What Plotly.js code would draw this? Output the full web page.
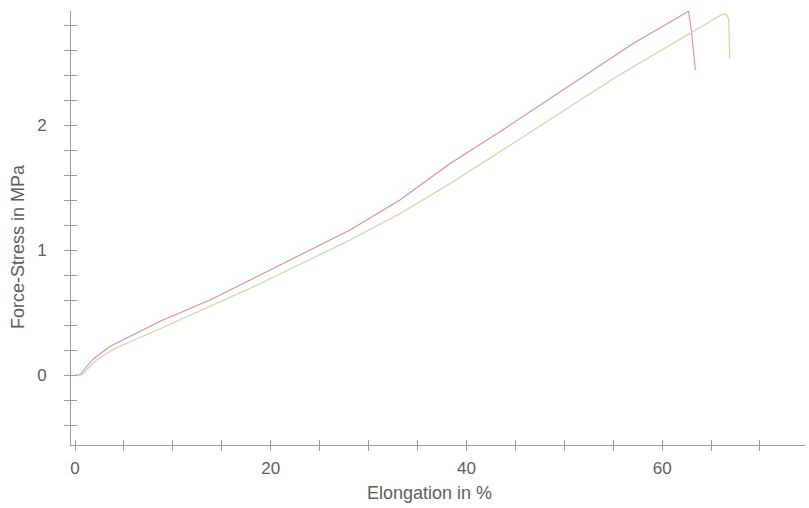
<!DOCTYPE html>
<html>
<head>
<meta charset="utf-8">
<script src="https://cdn.plot.ly/plotly-3.0.1.min.js"></script>
<style>html,body{margin:0;padding:0;background:#fff;}#chart{width:809px;height:508px;}</style>
</head>
<body>
<div id="chart"></div>
<script>
// Sample 1 (red)
const elongRed = [0, 0.5, 1.0, 1.9, 3.6, 8.7, 13.8, 18.9, 28.1, 33.2, 38.3, 43.5, 51.6, 57.0, 62.7, 63.0, 63.4];
const stressRed = [0, 0.0, 0.05, 0.13, 0.23, 0.43, 0.60, 0.80, 1.16, 1.40, 1.69, 1.95, 2.37, 2.65, 2.91, 2.75, 2.44];
// Sample 2 (green)
const elongGreen = [0, 0.7, 1.3, 2.2, 4.0, 8.7, 18.9, 28.1, 33.2, 38.3, 43.5, 49.0, 55.0, 63.2, 66.0, 66.5, 66.8, 66.9];
const stressGreen = [0, 0.0, 0.05, 0.12, 0.21, 0.37, 0.73, 1.08, 1.29, 1.53, 1.79, 2.07, 2.37, 2.75, 2.88, 2.89, 2.85, 2.53];

const xTickVals = [0, 20, 40, 60];
const xTickText = ['0', '20', '40', '60'];
const yTickVals = [0, 1, 2];
const yTickText = ['0', '1', '2'];
const xTitle = 'Elongation in %';
const yTitle = 'Force-Stress in MPa';

const axisColor = '#9a9a9a';
const textColor = '#5e5e5e';
const fam = 'Liberation Sans, Arial, sans-serif';
const xr = [-0.41, 74.6];
const yr = [-0.56, 2.912];

const traces = [
  {x: elongRed, y: stressRed, mode: 'lines', line: {color: '#dc8c9e', width: 1.1}, hoverinfo: 'skip'},
  {x: elongGreen, y: stressGreen, mode: 'lines', line: {color: '#cdd59c', width: 1.1}, hoverinfo: 'skip'},
  {x: [], y: [], xaxis: 'x2', yaxis: 'y2', mode: 'lines', hoverinfo: 'skip'}
];

const layout = {
  width: 809, height: 508,
  margin: {l: 71, r: 4, t: 11, b: 63},
  paper_bgcolor: '#ffffff', plot_bgcolor: '#ffffff',
  showlegend: false,
  font: {family: fam, size: 17, color: textColor},
  xaxis: {
    range: xr, showgrid: false, zeroline: false, showline: true, linecolor: axisColor, linewidth: 1,
    ticks: 'outside', ticklen: 5, tickcolor: axisColor, tickmode: 'array', tickvals: xTickVals, ticktext: xTickText,
    minor: {ticks: 'outside', ticklen: 5, tickcolor: axisColor, tickmode: 'linear', tick0: 0, dtick: 5, showgrid: false},
    tickfont: {family: fam, size: 17, color: textColor}, ticklabelstandoff: 3,
    fixedrange: true
  },
  yaxis: {
    range: yr, showgrid: false, zeroline: false, showline: true, linecolor: axisColor, linewidth: 1,
    ticks: 'outside', ticklen: 6, tickcolor: axisColor, tickmode: 'array', tickvals: yTickVals, ticktext: yTickText,
    minor: {ticks: 'outside', ticklen: 6, tickcolor: axisColor, tickmode: 'linear', tick0: 0, dtick: 0.2, showgrid: false},
    tickfont: {family: fam, size: 17, color: textColor}, ticklabelstandoff: 14,
    fixedrange: true
  },
  xaxis2: {
    overlaying: 'x', anchor: 'y2', range: xr, showgrid: false, zeroline: false, showline: false,
    ticks: 'inside', ticklen: 5, tickcolor: axisColor, tickmode: 'linear', tick0: 0, dtick: 5,
    showticklabels: false, fixedrange: true
  },
  yaxis2: {
    overlaying: 'y', anchor: 'x2', side: 'left', range: yr, showgrid: false, zeroline: false, showline: false,
    ticks: 'inside', ticklen: 6, tickcolor: axisColor, tickmode: 'linear', tick0: 0, dtick: 0.2,
    showticklabels: false, fixedrange: true
  },
  annotations: [
    {text: xTitle, xref: 'paper', yref: 'paper', x: (429 - 71) / 734, y: -(493 - 445) / 434,
     xanchor: 'center', yanchor: 'middle', showarrow: false, font: {family: fam, size: 18, color: textColor}},
    {text: yTitle, xref: 'paper', yref: 'paper', x: -(71 - 18) / 734, y: (445 - 247) / 434, textangle: -90,
     xanchor: 'center', yanchor: 'middle', showarrow: false, font: {family: fam, size: 18, color: textColor}}
  ]
};

Plotly.newPlot('chart', traces, layout, {staticPlot: true, displayModeBar: false});
</script>
</body>
</html>
